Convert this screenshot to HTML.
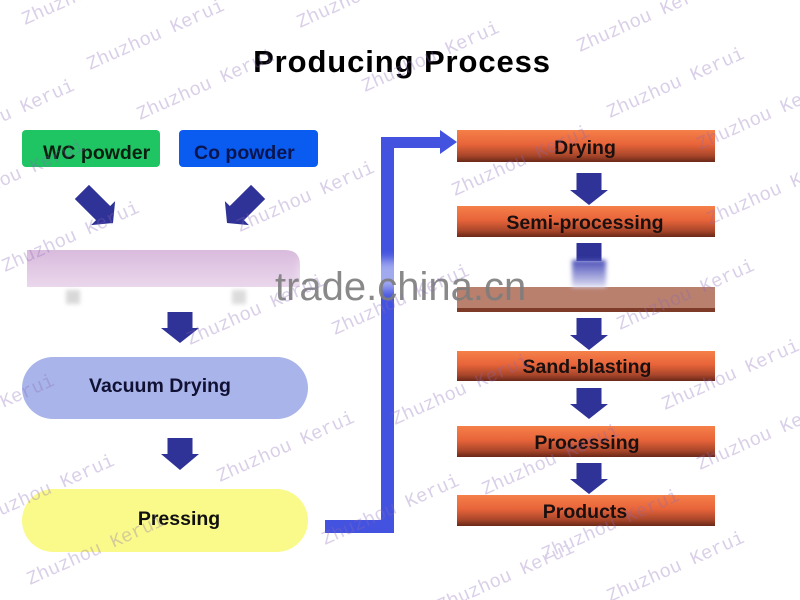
<!DOCTYPE html>
<html><head><meta charset="utf-8"><style>
html,body{margin:0;padding:0;background:#fff;width:800px;height:600px;overflow:hidden}
svg{display:block}
</style></head><body>
<svg width="800" height="600" viewBox="0 0 800 600" xmlns="http://www.w3.org/2000/svg">
<defs>
<linearGradient id="org" x1="0" y1="0" x2="0" y2="1">
<stop offset="0" stop-color="#f58049"/>
<stop offset="0.45" stop-color="#e8643a"/>
<stop offset="0.8" stop-color="#a8462a"/>
<stop offset="1" stop-color="#6a2818"/>
</linearGradient>
<linearGradient id="pink" x1="0" y1="0" x2="0" y2="1">
<stop offset="0" stop-color="#d9bbdd"/>
<stop offset="1" stop-color="#ead7ec"/>
</linearGradient>
<linearGradient id="fadeblue" x1="0" y1="0" x2="0" y2="1">
<stop offset="0" stop-color="#4a4fb8"/>
<stop offset="1" stop-color="#dcdcf2"/>
</linearGradient>
<filter id="blur" x="-20%" y="-50%" width="140%" height="200%"><feGaussianBlur stdDeviation="5"/></filter>
<filter id="blur2" x="-50%" y="-50%" width="200%" height="200%"><feGaussianBlur stdDeviation="2"/></filter>
</defs>

<!-- Title -->
<text x="402" y="72" text-anchor="middle" font-family="Liberation Sans, sans-serif" font-weight="bold" font-size="31" letter-spacing="0.9" fill="#000">Producing Process</text>

<!-- WC / Co powder -->
<rect x="22" y="130" width="138" height="37" rx="4" fill="#1fc463"/>
<text x="43" y="159" font-family="Liberation Sans, sans-serif" font-weight="bold" font-size="19.5" fill="#0b1f10">WC powder</text>
<rect x="179" y="130" width="139" height="37" rx="4" fill="#0a5cf0"/>
<text x="194" y="159" font-family="Liberation Sans, sans-serif" font-weight="bold" font-size="19.5" fill="#0a1550">Co powder</text>

<!-- diagonal arrows -->
<g fill="#2f3296">
<path transform="translate(113,223) rotate(-45)" d="M0,0 L-17,-14 L-10,-14 L-10,-44 L10,-44 L10,-14 L17,-14 Z"/>
<path transform="translate(227,223) rotate(45)" d="M0,0 L-17,-14 L-10,-14 L-10,-44 L10,-44 L10,-14 L17,-14 Z"/>
</g>

<!-- pink band (obscured) -->
<path d="M27,250 L285,250 Q300,250 300,265 L300,287 L27,287 Z" fill="url(#pink)"/>
<rect x="66" y="290" width="14" height="14" fill="#d8d8d8" filter="url(#blur2)"/>
<rect x="232" y="290" width="14" height="14" fill="#dcdcdc" filter="url(#blur2)"/>

<!-- left column arrows -->
<g fill="#2f3296">
<path d="M167.5,312 L192.5,312 L192.5,328 L199,328 L180,343 L161,328 L167.5,328 Z"/>
<path d="M167.5,438 L192.5,438 L192.5,454 L199,454 L180,470 L161,454 L167.5,454 Z"/>
</g>

<!-- Vacuum Drying -->
<rect x="22" y="357" width="286" height="62" rx="31" fill="#a9b4ea"/>
<text x="160" y="392" text-anchor="middle" font-family="Liberation Sans, sans-serif" font-weight="bold" font-size="19.5" fill="#111133">Vacuum Drying</text>

<!-- Pressing -->
<rect x="22" y="489" width="286" height="63" rx="31.5" fill="#fafa8a"/>
<text x="179" y="525" text-anchor="middle" font-family="Liberation Sans, sans-serif" font-weight="bold" font-size="19.5" fill="#111">Pressing</text>

<!-- blue connector -->
<g fill="#4353e0">
<rect x="325" y="520" width="69" height="13"/>
<rect x="381" y="137" width="13" height="396"/>
<rect x="381" y="137" width="61" height="11"/>
<polygon points="440,130 457,142 440,154"/>
</g>

<!-- right column boxes -->
<rect x="457" y="130" width="258" height="32" fill="url(#org)"/>
<text x="585" y="154" text-anchor="middle" font-family="Liberation Sans, sans-serif" font-weight="bold" font-size="19.5" fill="#1a1010">Drying</text>
<rect x="457" y="206" width="258" height="31" fill="url(#org)"/>
<text x="585" y="229" text-anchor="middle" font-family="Liberation Sans, sans-serif" font-weight="bold" font-size="19.5" fill="#1a1010">Semi-processing</text>
<rect x="457" y="287" width="258" height="25" fill="#b9806e"/>
<rect x="457" y="308" width="258" height="4" fill="#7e3c28"/>
<rect x="457" y="351" width="258" height="30" fill="url(#org)"/>
<text x="587" y="373" text-anchor="middle" font-family="Liberation Sans, sans-serif" font-weight="bold" font-size="19.5" fill="#1a1010">Sand-blasting</text>
<rect x="457" y="426" width="258" height="31" fill="url(#org)"/>
<text x="587" y="449" text-anchor="middle" font-family="Liberation Sans, sans-serif" font-weight="bold" font-size="19.5" fill="#1a1010">Processing</text>
<rect x="457" y="495" width="258" height="31" fill="url(#org)"/>
<text x="585" y="518" text-anchor="middle" font-family="Liberation Sans, sans-serif" font-weight="bold" font-size="19.5" fill="#1a1010">Products</text>

<!-- right column arrows -->
<g fill="#2f3296">
<path d="M576.5,173 L601.5,173 L601.5,190 L608,190 L589,205 L570,190 L576.5,190 Z"/>
<rect x="576.5" y="243" width="25" height="18"/>
<path d="M576.5,318 L601.5,318 L601.5,335 L608,335 L589,350 L570,335 L576.5,335 Z"/>
<path d="M576.5,388 L601.5,388 L601.5,404 L608,404 L589,419 L570,404 L576.5,404 Z"/>
<path d="M576.5,463 L601.5,463 L601.5,479 L608,479 L589,494 L570,479 L576.5,479 Z"/>
</g>
<rect x="572" y="260" width="34" height="27" fill="url(#fadeblue)" filter="url(#blur2)"/>

<!-- trade.china.cn watermark band -->
<rect x="300" y="260" width="150" height="30" fill="#fff" opacity="0.5" filter="url(#blur)"/>
<text x="275" y="300" font-family="Liberation Sans, sans-serif" font-size="40" fill="#7d7d7d" opacity="0.9">trade.china.cn</text>

<!-- Zhuzhou Kerui watermarks -->
<g font-family="Liberation Mono, monospace" font-size="19" fill="#8a6ab8" opacity="0.32">
<text transform="translate(25,25) rotate(-24)">Zhuzhou Kerui</text>
<text transform="translate(90,70) rotate(-24)">Zhuzhou Kerui</text>
<text transform="translate(300,28) rotate(-24)">Zhuzhou Kerui</text>
<text transform="translate(580,52) rotate(-24)">Zhuzhou Kerui</text>
<text transform="translate(140,120) rotate(-24)">Zhuzhou Kerui</text>
<text transform="translate(365,92) rotate(-24)">Zhuzhou Kerui</text>
<text transform="translate(610,118) rotate(-24)">Zhuzhou Kerui</text>
<text transform="translate(-60,150) rotate(-24)">Zhuzhou Kerui</text>
<text transform="translate(240,232) rotate(-24)">Zhuzhou Kerui</text>
<text transform="translate(455,196) rotate(-24)">Zhuzhou Kerui</text>
<text transform="translate(700,150) rotate(-24)">Zhuzhou Kerui</text>
<text transform="translate(5,272) rotate(-24)">Zhuzhou Kerui</text>
<text transform="translate(-50,210) rotate(-24)">Zhuzhou Kerui</text>
<text transform="translate(190,345) rotate(-24)">Zhuzhou Kerui</text>
<text transform="translate(335,335) rotate(-24)">Zhuzhou Kerui</text>
<text transform="translate(620,330) rotate(-24)">Zhuzhou Kerui</text>
<text transform="translate(-80,445) rotate(-24)">Zhuzhou Kerui</text>
<text transform="translate(395,425) rotate(-24)">Zhuzhou Kerui</text>
<text transform="translate(665,410) rotate(-24)">Zhuzhou Kerui</text>
<text transform="translate(220,482) rotate(-24)">Zhuzhou Kerui</text>
<text transform="translate(-20,525) rotate(-24)">Zhuzhou Kerui</text>
<text transform="translate(700,470) rotate(-24)">Zhuzhou Kerui</text>
<text transform="translate(485,495) rotate(-24)">Zhuzhou Kerui</text>
<text transform="translate(325,545) rotate(-24)">Zhuzhou Kerui</text>
<text transform="translate(30,585) rotate(-24)">Zhuzhou Kerui</text>
<text transform="translate(545,560) rotate(-24)">Zhuzhou Kerui</text>
<text transform="translate(440,612) rotate(-24)">Zhuzhou Kerui</text>
<text transform="translate(610,602) rotate(-24)">Zhuzhou Kerui</text>
<text transform="translate(710,225) rotate(-24)">Zhuzhou Kerui</text>
</g>
</svg>
</body></html>
